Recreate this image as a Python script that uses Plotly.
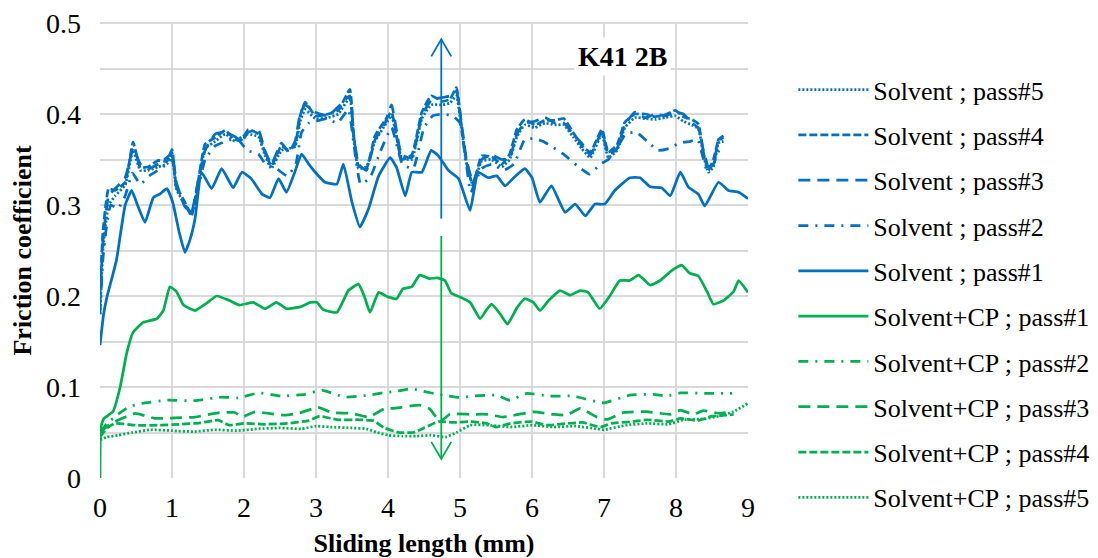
import plotly.graph_objects as go

BLUE = "#0070C0"
GREEN = "#00B050"

# ---------------- data ----------------
s1_x = [0, 0.05, 0.1, 0.15, 0.23, 0.35, 0.44, 0.52, 0.625, 0.74, 0.83, 0.93, 1.01, 1.1, 1.18, 1.25, 1.32, 1.41,
        1.55, 1.69, 1.85, 1.97, 2.1, 2.25, 2.36, 2.48, 2.59, 2.7, 2.8, 2.9, 2.99, 3.125, 3.29, 3.38, 3.5, 3.61,
        3.73, 3.87, 4.03, 4.12, 4.24, 4.33, 4.47, 4.6, 4.7, 4.84, 4.98, 5.14, 5.25, 5.39, 5.51, 5.625, 5.76,
        5.9, 6.0, 6.11, 6.27, 6.46, 6.6, 6.74, 6.875, 7.01, 7.15, 7.36, 7.5, 7.64, 7.8, 7.92, 8.06, 8.17, 8.31,
        8.4, 8.59, 8.73, 8.87, 9.0]
s1_y = [0.146, 0.18, 0.2, 0.215, 0.24, 0.30, 0.316, 0.30, 0.281, 0.308, 0.312, 0.318, 0.303, 0.27, 0.248, 0.262,
        0.285, 0.336, 0.318, 0.34, 0.319, 0.336, 0.329, 0.312, 0.308, 0.329, 0.314, 0.335, 0.356, 0.345, 0.336,
        0.325, 0.323, 0.345, 0.303, 0.276, 0.296, 0.332, 0.352, 0.341, 0.31, 0.336, 0.336, 0.36, 0.354, 0.338,
        0.329, 0.294, 0.336, 0.33, 0.332, 0.321, 0.331, 0.34, 0.33, 0.303, 0.321, 0.292, 0.301, 0.288, 0.301,
        0.301, 0.316, 0.33, 0.33, 0.32, 0.319, 0.31, 0.336, 0.32, 0.312, 0.299, 0.325, 0.316, 0.314, 0.307]

sup_x = [0, 0.04, 0.08, 0.12, 0.21, 0.35, 0.46, 0.56, 0.67, 0.81, 0.93, 1.0, 1.06, 1.18, 1.27, 1.37, 1.46, 1.6,
         1.74, 1.875, 1.97, 2.06, 2.2, 2.29, 2.38, 2.52, 2.62, 2.71, 2.78, 2.85, 2.99, 3.17, 3.31, 3.47, 3.52,
         3.59, 3.7, 3.82, 3.96, 4.05, 4.19, 4.33, 4.47, 4.6, 4.75, 4.86, 4.95, 5.02, 5.09, 5.18, 5.3, 5.44, 5.58,
         5.69, 5.79, 5.9, 6.04, 6.18, 6.32, 6.44, 6.57, 6.69, 6.81, 6.97, 7.06, 7.18, 7.29, 7.43, 7.57, 7.71,
         7.85, 7.99, 8.1, 8.22, 8.31, 8.38, 8.45, 8.52, 8.59, 8.66]
s4_y = [0.2, 0.27, 0.3, 0.318, 0.316, 0.325, 0.369, 0.341, 0.342, 0.349, 0.348, 0.361, 0.321, 0.303, 0.288, 0.329,
        0.367, 0.374, 0.382, 0.372, 0.372, 0.383, 0.378, 0.358, 0.343, 0.365, 0.36, 0.366, 0.398, 0.413, 0.398,
        0.4, 0.404, 0.427, 0.38, 0.343, 0.34, 0.376, 0.393, 0.402, 0.35, 0.355, 0.402, 0.42, 0.414, 0.416, 0.429,
        0.387, 0.347, 0.321, 0.354, 0.353, 0.345, 0.356, 0.383, 0.394, 0.388, 0.393, 0.393, 0.395, 0.38, 0.365,
        0.358, 0.383, 0.358, 0.366, 0.391, 0.4, 0.4, 0.397, 0.399, 0.404, 0.397, 0.394, 0.389, 0.358, 0.338,
        0.35, 0.371, 0.374]
s3_y = [0.19, 0.26, 0.29, 0.31, 0.318, 0.33, 0.362, 0.345, 0.34, 0.345, 0.352, 0.357, 0.325, 0.298, 0.292, 0.33,
        0.36, 0.378, 0.38, 0.375, 0.37, 0.38, 0.382, 0.36, 0.345, 0.368, 0.358, 0.37, 0.4, 0.41, 0.402, 0.398,
        0.408, 0.42, 0.378, 0.345, 0.338, 0.372, 0.39, 0.41, 0.355, 0.352, 0.398, 0.415, 0.418, 0.42, 0.425,
        0.39, 0.35, 0.325, 0.35, 0.355, 0.35, 0.352, 0.378, 0.39, 0.392, 0.396, 0.39, 0.39, 0.378, 0.368, 0.355,
        0.38, 0.355, 0.362, 0.388, 0.402, 0.396, 0.4, 0.398, 0.402, 0.4, 0.39, 0.385, 0.36, 0.342, 0.345,
        0.372, 0.376]
s5_y = [0.18, 0.25, 0.28, 0.3, 0.31, 0.322, 0.36, 0.338, 0.338, 0.342, 0.345, 0.355, 0.318, 0.3, 0.29, 0.325,
        0.362, 0.37, 0.378, 0.37, 0.375, 0.378, 0.375, 0.355, 0.34, 0.36, 0.362, 0.364, 0.392, 0.405, 0.395,
        0.396, 0.4, 0.418, 0.375, 0.34, 0.342, 0.37, 0.388, 0.398, 0.352, 0.35, 0.395, 0.41, 0.41, 0.412, 0.42,
        0.385, 0.345, 0.322, 0.348, 0.35, 0.342, 0.35, 0.375, 0.388, 0.385, 0.39, 0.388, 0.388, 0.375, 0.362,
        0.352, 0.378, 0.352, 0.36, 0.385, 0.396, 0.395, 0.394, 0.396, 0.398, 0.392, 0.388, 0.384, 0.355, 0.336,
        0.342, 0.368, 0.37]

s2_x = [0, 0.04, 0.08, 0.15, 0.25, 0.35, 0.45, 0.56, 0.7, 0.85, 1.0, 1.06, 1.18, 1.27, 1.37, 1.46, 1.6, 1.75, 1.9,
        2.05, 2.2, 2.3, 2.45, 2.6, 2.72, 2.8, 2.9, 3.0, 3.15, 3.3, 3.45, 3.52, 3.62, 3.75, 3.9, 4.05, 4.2, 4.35,
        4.5, 4.62, 4.75, 4.9, 5.0, 5.08, 5.15, 5.3, 5.45, 5.6, 5.75, 5.9, 6.04, 6.15, 6.3, 6.45, 6.63, 6.8,
        6.95, 7.06, 7.2, 7.3, 7.45, 7.6, 7.75, 7.9, 8.05, 8.2, 8.3, 8.43, 8.52, 8.6, 8.68]
s2_y = [0.18, 0.24, 0.27, 0.3, 0.296, 0.31, 0.335, 0.323, 0.333, 0.34, 0.35, 0.32, 0.3, 0.292, 0.32, 0.35, 0.365,
        0.37, 0.373, 0.36, 0.356, 0.345, 0.34, 0.332, 0.345, 0.38, 0.39, 0.392, 0.395, 0.39, 0.405, 0.37, 0.323,
        0.33, 0.36, 0.385, 0.345, 0.34, 0.385, 0.398, 0.4, 0.398, 0.39, 0.35, 0.314, 0.34, 0.345, 0.338, 0.345,
        0.372, 0.373, 0.37, 0.363, 0.355, 0.343, 0.334, 0.345, 0.35, 0.365, 0.378, 0.38, 0.37, 0.36, 0.362,
        0.368, 0.37, 0.372, 0.338, 0.345, 0.36, 0.362]

c1_x = [0, 0.01, 0.05, 0.18, 0.28, 0.37, 0.46, 0.6, 0.79, 0.88, 0.97, 1.06, 1.16, 1.32, 1.48, 1.62, 1.8, 1.94,
        2.13, 2.29, 2.45, 2.59, 2.78, 2.92, 3.01, 3.1, 3.29, 3.45, 3.59, 3.67, 3.75, 3.87, 4.0, 4.12, 4.21, 4.33,
        4.44, 4.58, 4.68, 4.79, 4.88, 5.0, 5.14, 5.28, 5.37, 5.44, 5.56, 5.66, 5.79, 5.9, 6.02, 6.11, 6.23, 6.39,
        6.53, 6.67, 6.78, 6.94, 7.08, 7.22, 7.36, 7.48, 7.64, 7.78, 7.94, 8.08, 8.19, 8.31, 8.43, 8.52, 8.66,
        8.8, 8.87, 9.0]
c1_y = [0.0, 0.055, 0.065, 0.073, 0.1, 0.137, 0.16, 0.171, 0.175, 0.184, 0.21, 0.205, 0.19, 0.184, 0.192, 0.2,
        0.195, 0.19, 0.193, 0.186, 0.193, 0.186, 0.188, 0.193, 0.193, 0.185, 0.182, 0.206, 0.213, 0.2, 0.182,
        0.204, 0.199, 0.197, 0.208, 0.21, 0.223, 0.219, 0.22, 0.217, 0.203, 0.199, 0.193, 0.175, 0.185, 0.191,
        0.18, 0.169, 0.187, 0.197, 0.193, 0.184, 0.195, 0.206, 0.201, 0.206, 0.204, 0.186, 0.2, 0.217, 0.217,
        0.223, 0.212, 0.217, 0.228, 0.234, 0.225, 0.222, 0.205, 0.191, 0.195, 0.205, 0.217, 0.204]

c2_x = [0, 0.1, 0.25, 0.4, 0.58, 0.94, 1.32, 1.69, 1.92, 2.2, 2.52, 2.85, 3.08, 3.4, 3.73, 3.96, 4.07, 4.33, 4.44,
        4.77, 5.0, 5.18, 5.51, 5.69, 5.93, 6.25, 6.57, 6.99, 7.36, 7.69, 7.87, 8.06, 8.43, 8.78]
c2_y = [0.05, 0.06, 0.07, 0.078, 0.082, 0.0855, 0.085, 0.089, 0.088, 0.0935, 0.09, 0.092, 0.0965, 0.089, 0.091,
        0.094, 0.0947, 0.0983, 0.096, 0.091, 0.0885, 0.09, 0.091, 0.0855, 0.093, 0.09, 0.09, 0.0826, 0.091,
        0.092, 0.09, 0.0935, 0.093, 0.093]

c3_x = [0, 0.1, 0.21, 0.49, 0.76, 1.04, 1.32, 1.64, 1.875, 1.97, 2.15, 2.34, 2.57, 2.75, 3.03, 3.22, 3.5, 3.73,
        3.96, 4.07, 4.44, 4.58, 4.72, 4.86, 5.14, 5.37, 5.6, 6.02, 6.3, 6.48, 6.67, 6.9, 7.04, 7.27, 7.59, 7.92,
        8.06, 8.24, 8.38, 8.61, 8.75]
c3_y = [0.05, 0.057, 0.062, 0.071, 0.0655, 0.066, 0.067, 0.0716, 0.072, 0.067, 0.0727, 0.071, 0.069, 0.071,
        0.0775, 0.072, 0.071, 0.067, 0.0764, 0.0764, 0.08, 0.076, 0.062, 0.07, 0.07, 0.07, 0.067, 0.0727, 0.07,
        0.069, 0.0764, 0.067, 0.0643, 0.072, 0.073, 0.07, 0.0746, 0.07, 0.074, 0.071, 0.073]

c4_x = [0, 0.1, 0.21, 0.5, 0.8, 1.1, 1.4, 1.64, 1.8, 2.0, 2.3, 2.6, 2.9, 3.05, 3.3, 3.6, 3.8, 3.95, 4.15, 4.35,
        4.5, 4.7, 4.9, 5.14, 5.37, 5.5, 5.7, 6.0, 6.2, 6.5, 6.7, 6.95, 7.1, 7.4, 7.6, 7.9, 8.06, 8.3, 8.5, 8.7, 8.8]
c4_y = [0.045, 0.055, 0.06, 0.058, 0.058, 0.059, 0.0607, 0.0636, 0.058, 0.06, 0.059, 0.06, 0.063, 0.068, 0.064,
        0.064, 0.063, 0.055, 0.05, 0.05, 0.055, 0.062, 0.061, 0.062, 0.06, 0.056, 0.06, 0.062, 0.058, 0.06,
        0.061, 0.056, 0.06, 0.062, 0.064, 0.062, 0.0655, 0.063, 0.068, 0.069, 0.07]

c5_x = [0, 0.1, 0.25, 0.45, 0.7, 1.0, 1.3, 1.6, 1.9, 2.2, 2.5, 2.8, 3.0, 3.2, 3.5, 3.7, 3.85, 4.0, 4.2, 4.4, 4.6,
        4.8, 4.95, 5.14, 5.4, 5.7, 6.0, 6.3, 6.6, 6.9, 7.0, 7.3, 7.6, 7.9, 8.1, 8.4, 8.6, 8.8, 9.0]
c5_y = [0.042, 0.045, 0.047, 0.05, 0.053, 0.052, 0.051, 0.053, 0.052, 0.054, 0.055, 0.054, 0.057, 0.056, 0.055,
        0.054, 0.05, 0.047, 0.046, 0.046, 0.047, 0.045, 0.05, 0.058, 0.058, 0.056, 0.058, 0.056, 0.057, 0.054,
        0.053, 0.058, 0.06, 0.059, 0.064, 0.065, 0.068, 0.073, 0.082]

x_ticks = [0, 1, 2, 3, 4, 5, 6, 7, 8, 9]
y_ticks = [0, 0.1, 0.2, 0.3, 0.4, 0.5]
y_tick_text = ["0", "0.1", "0.2", "0.3", "0.4", "0.5"]
Y_MAX = 0.5

ARROW_X = 4.74
BLUE_ARROW = (0.285, 0.482)
GREEN_ARROW = (0.266, 0.021)

# ---------------- figure ----------------
FONT = "Liberation Serif, Times New Roman, serif"
GRID = "#D9D9D9"
DOT = "2px,2px"
SHORT = "8px,3px"
LONG = "12px,7px"
DASHDOT = "10px,7px,2px,7px"

series = [
    ("Solvent ; pass#5", sup_x, s5_y, BLUE, DOT),
    ("Solvent ; pass#4", sup_x, s4_y, BLUE, SHORT),
    ("Solvent ; pass#3", sup_x, s3_y, BLUE, LONG),
    ("Solvent ; pass#2", s2_x, s2_y, BLUE, DASHDOT),
    ("Solvent ; pass#1", s1_x, s1_y, BLUE, "solid"),
    ("Solvent+CP ; pass#1", c1_x, c1_y, GREEN, "solid"),
    ("Solvent+CP ; pass#2", c2_x, c2_y, GREEN, DASHDOT),
    ("Solvent+CP ; pass#3", c3_x, c3_y, GREEN, LONG),
    ("Solvent+CP ; pass#4", c4_x, c4_y, GREEN, SHORT),
    ("Solvent+CP ; pass#5", c5_x, c5_y, GREEN, DOT),
]

fig = go.Figure()
for i, (name, xs, ys, col, dash) in enumerate(series):
    fig.add_trace(go.Scatter(x=xs, y=ys, mode="lines", name=name, legendgroup=f"g{i}",
                             line=dict(color=col, width=2.75, dash=dash, shape="spline", smoothing=0.4)))

# page body has an 8px margin, so the figure is 8px smaller than the window
W, H = 1090, 550
ML, MT = 92, 15
PW, PH = 648, 455
MR, MB = W - ML - PW, H - MT - PH
px_x = 9 / PW
px_y = 0.5 / PH

# top border gridline (plotly drops the gridline at the range end); paper refs avoid clipping
shapes = [dict(type="line", xref="paper", x0=0, x1=1, yref="paper", y0=1, y1=1,
               line=dict(color=GRID, width=2), layer="below")]

def arrow(x, y0, y1, col, w):
    shapes.append(dict(type="line", x0=x, x1=x, y0=y0, y1=y1, line=dict(color=col, width=w)))
    sgn = 1 if y1 > y0 else -1
    hx, hy = 10 * px_x, 17 * px_y
    shapes.append(dict(type="path",
                       path=f"M {x - hx} {y1 - sgn * hy} L {x} {y1} L {x + hx} {y1 - sgn * hy}",
                       line=dict(color=col, width=w)))

arrow(ARROW_X, BLUE_ARROW[0], BLUE_ARROW[1], BLUE, 1.8)
arrow(ARROW_X, GREEN_ARROW[0], GREEN_ARROW[1], GREEN, 1.8)

fig.update_layout(
    width=W, height=H,
    margin=dict(l=ML, r=MR, t=MT, b=MB, autoexpand=False),
    paper_bgcolor="white", plot_bgcolor="white",
    font=dict(family=FONT, size=26, color="black"),
    shapes=shapes,
    showlegend=True,
    legend=dict(x=1.07, xanchor="left", y=0.905, yanchor="top", traceorder="grouped",
                tracegroupgap=8.5, itemwidth=70, font=dict(size=26, family=FONT),
                bgcolor="rgba(0,0,0,0)"),
    annotations=[dict(x=7.26, y=0.463, xref="x", yref="y", text="<b>K41 2B</b>", showarrow=False,
                      font=dict(size=28, family=FONT, color="black"), bgcolor="white", borderpad=3)],
)
fig.update_xaxes(range=[0, 9], tickvals=x_ticks, showgrid=True, gridcolor=GRID, gridwidth=2,
                 zeroline=False, showline=False, ticks="", ticklabelstandoff=10, automargin=False,
                 ticklabeloverflow="allow", tickfont=dict(size=28, family=FONT),
                 title=dict(text="<b>Sliding length (mm)</b>", font=dict(size=26, family=FONT), standoff=14))
fig.update_yaxes(range=[0, Y_MAX], tickvals=y_ticks, ticktext=y_tick_text, showgrid=True, gridcolor=GRID,
                 gridwidth=2, zeroline=False, showline=False, ticks="", ticklabelstandoff=18, automargin=False,
                 ticklabeloverflow="allow", tickfont=dict(size=28, family=FONT),
                 minor=dict(dtick=0.05, tick0=0, showgrid=True, gridcolor=GRID, gridwidth=2),
                 title=dict(text="<b>Friction coefficient</b>", font=dict(size=26, family=FONT), standoff=14))

fig.write_html("out.html")
